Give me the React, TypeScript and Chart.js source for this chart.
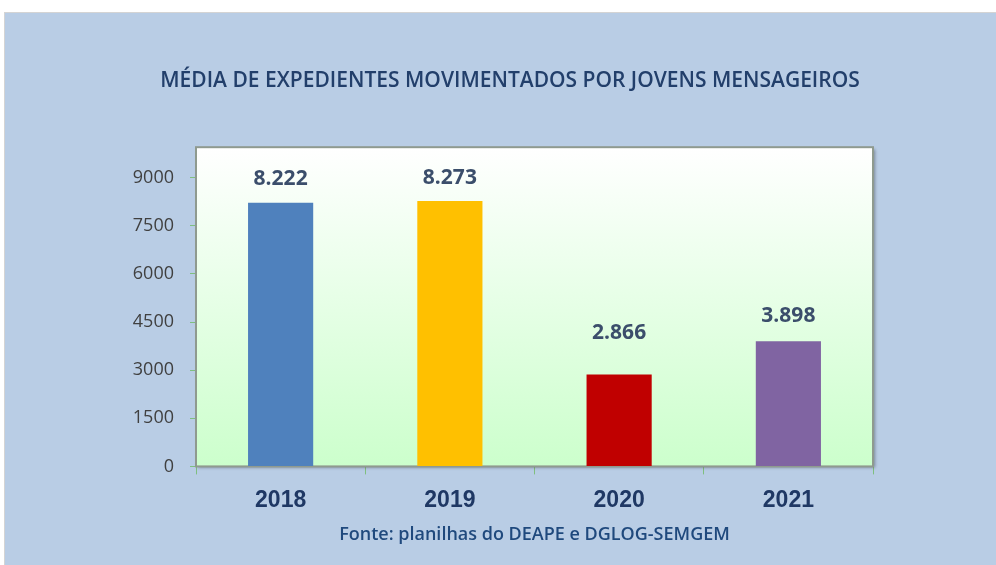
import React, { useEffect, useRef } from "react";
import { Chart, registerables } from "chart.js";
Chart.register(...registerables);

const categories = ["2018", "2019", "2020", "2021"];
const values = [8222, 8273, 2866, 3898];
const valueLabels = ["8.222", "8.273", "2.866", "3.898"];
const barColors = ["#4f81bd", "#ffc000", "#c00000", "#8064a2"];
const yTicks = [0, 1500, 3000, 4500, 6000, 7500, 9000];
const yMax = 9950;
const titleText = "MÉDIA DE EXPEDIENTES MOVIMENTADOS POR JOVENS MENSAGEIROS";
const sourceText = "Fonte: planilhas do DEAPE e DGLOG-SEMGEM";

const plotBg = {
  id: "plotBg",
  beforeDatasetsDraw(chart: any) {
    const { ctx, chartArea: a } = chart;
    ctx.save();
    const g = ctx.createLinearGradient(0, a.top, 0, a.bottom);
    g.addColorStop(0, "#ffffff");
    g.addColorStop(1, "#ccffcc");
    ctx.shadowColor = "rgba(0,0,0,0.35)";
    ctx.shadowOffsetX = 2;
    ctx.shadowOffsetY = 2;
    ctx.shadowBlur = 3;
    ctx.fillStyle = g;
    ctx.fillRect(a.left, a.top, a.width, a.height);
    ctx.shadowColor = "transparent";
    ctx.strokeStyle = "#8f9a8f";
    ctx.lineWidth = 2;
    ctx.strokeRect(a.left, a.top, a.width, a.height);
    ctx.restore();
  },
};

const barLabels = {
  id: "barLabels",
  afterDatasetsDraw(chart: any, _args: any, opts: any) {
    const { ctx } = chart;
    const meta = chart.getDatasetMeta(0);
    ctx.save();
    ctx.font = opts.font;
    ctx.fillStyle = opts.color;
    ctx.textAlign = "center";
    ctx.textBaseline = "middle";
    meta.data.forEach((bar: any, i: number) => {
      const off = opts.offsets[i] ?? 24;
      ctx.fillText(valueLabels[i], bar.x, bar.y - off);
    });
    ctx.restore();
  },
};

export default function App() {
  const ref = useRef<HTMLCanvasElement>(null);
  useEffect(() => {
    if (!ref.current) return;
    const chart = new Chart(ref.current, {
      type: "bar",
      data: {
        labels: categories,
        datasets: [
          {
            data: values,
            backgroundColor: barColors,
            borderWidth: 0,
            barPercentage: 0.385,
            categoryPercentage: 1,
          },
        ],
      },
      plugins: [plotBg, barLabels],
      options: {
        responsive: false,
        animation: false,
        layout: { padding: { left: 24, top: 0, right: 0, bottom: 21 } },
        plugins: {
          legend: { display: false },
          tooltip: { enabled: false },
          title: {
            display: true,
            text: titleText,
            color: "#223f6b",
            font: { family: "Open Sans", size: 21, weight: "600" },
            padding: { top: 68, bottom: 54 },
          },
          barLabels: {
            font: "bold 21px 'Open Sans'",
            color: "#3b4e6b",
            offsets: [24, 23, 41, 25],
          },
        } as any,
        scales: {
          x: {
            grid: {
              display: true,
              drawOnChartArea: false,
              drawTicks: true,
              tickLength: 8,
              color: "#7fbf7f",
              offset: true,
            },
            border: { display: false },
            ticks: {
              color: "#1f3864",
              font: { family: "Liberation Sans", size: 23, weight: "bold" },
              padding: 12,
            },
            title: {
              display: true,
              text: sourceText,
              color: "#1f497d",
              font: { family: "Open Sans", size: 18, weight: "600", lineHeight: 1 },
              padding: { top: 0, bottom: 0 },
            },
          },
          y: {
            min: 0,
            max: yMax,
            afterBuildTicks: (s: any) => {
              s.ticks = yTicks.map((v) => ({ value: v }));
            },
            afterFit: (s: any) => {
              s.width = 172;
            },
            grid: {
              drawOnChartArea: false,
              drawTicks: true,
              tickLength: 6,
              color: "#7fbf7f",
            },
            border: { display: false },
            ticks: {
              color: "#404040",
              font: { family: "Open Sans", size: 18 },
              padding: 16,
              callback: (v: any) => String(v),
            },
          },
          yR: {
            position: "right",
            display: true,
            grid: { display: false },
            border: { display: false },
            ticks: { display: false },
            afterFit: (s: any) => {
              s.width = 123;
            },
          },
        },
      },
    });
    return () => chart.destroy();
  }, []);

  return (
    <div style={{ position: "fixed", left: 0, top: 0, width: 996, height: 565, background: "#ffffff" }}>
      <div
        style={{
          position: "absolute",
          left: 4,
          top: 12,
          right: 0,
          bottom: 0,
          background: "#b9cde5",
          borderLeft: "1px solid #d4d4d4",
          borderTop: "1px solid #d4d4d4",
        }}
      />
      <canvas ref={ref} width={996} height={565} style={{ position: "absolute", left: 0, top: 0 }} />
    </div>
  );
}
